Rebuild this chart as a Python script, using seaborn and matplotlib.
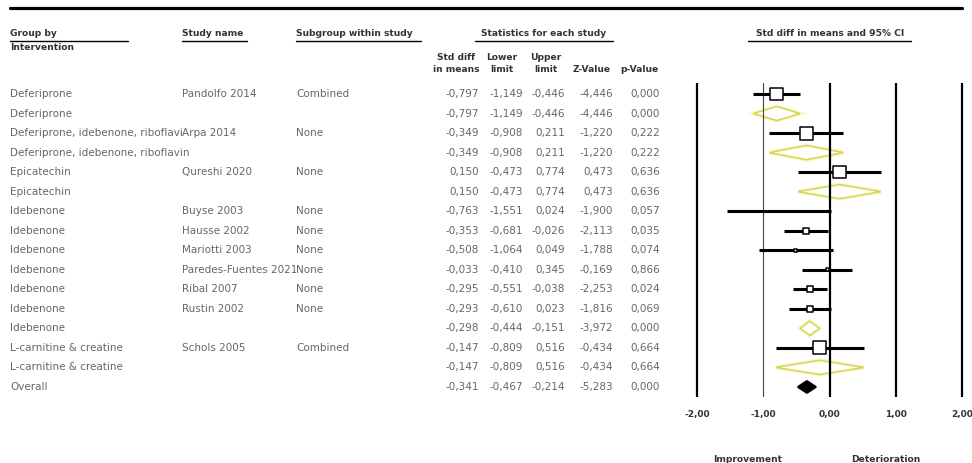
import matplotlib
matplotlib.use("Agg")
import matplotlib.pyplot as plt
from matplotlib.lines import Line2D
from matplotlib.patches import Polygon, Rectangle
from matplotlib.transforms import blended_transform_factory
import numpy as np
import pandas as pd
import seaborn as sns

# ---- data -----------------------------------------------------------------
groups = [
    "Deferiprone", "Deferiprone",
    "Deferiprone, idebenone, riboflavin", "Deferiprone, idebenone, riboflavin",
    "Epicatechin", "Epicatechin",
    "Idebenone", "Idebenone", "Idebenone", "Idebenone", "Idebenone", "Idebenone",
    "Idebenone",
    "L-carnitine & creatine", "L-carnitine & creatine",
    "Overall",
]
studies = [
    "Pandolfo 2014", "",
    "Arpa 2014", "",
    "Qureshi 2020", "",
    "Buyse 2003", "Hausse 2002", "Mariotti 2003", "Paredes-Fuentes 2021",
    "Ribal 2007", "Rustin 2002", "",
    "Schols 2005", "",
    "",
]
subgroups = [
    "Combined", "",
    "None", "",
    "None", "",
    "None", "None", "None", "None", "None", "None", "",
    "Combined", "",
    "",
]
std_diff = [-0.797, -0.797, -0.349, -0.349, 0.150, 0.150,
            -0.763, -0.353, -0.508, -0.033, -0.295, -0.293, -0.298,
            -0.147, -0.147, -0.341]
lower = [-1.149, -1.149, -0.908, -0.908, -0.473, -0.473,
         -1.551, -0.681, -1.064, -0.410, -0.551, -0.610, -0.444,
         -0.809, -0.809, -0.467]
upper = [-0.446, -0.446, 0.211, 0.211, 0.774, 0.774,
         0.024, -0.026, 0.049, 0.345, -0.038, 0.023, -0.151,
         0.516, 0.516, -0.214]
z_value = [-4.446, -4.446, -1.220, -1.220, 0.473, 0.473,
           -1.900, -2.113, -1.788, -0.169, -2.253, -1.816, -3.972,
           -0.434, -0.434, -5.283]
p_value = [0.000, 0.000, 0.222, 0.222, 0.636, 0.636,
           0.057, 0.035, 0.074, 0.866, 0.024, 0.069, 0.000,
           0.664, 0.664, 0.000]
# relative weight of each study (drives the box size); 0 for pooled rows
rel_weight = [1.0, 0, 1.0, 0, 0.95, 0,
              0.0, 0.45, 0.22, 0.22, 0.45, 0.45, 0,
              1.0, 0, 0]
x_ticks = [-2, -1, 0, 1, 2]

df = pd.DataFrame({
    "group": groups, "study": studies, "subgroup": subgroups,
    "smd": std_diff, "lo": lower, "hi": upper, "z": z_value, "p": p_value,
    "w": rel_weight,
})
df["row"] = np.arange(len(df))
df["pooled"] = df["study"] == ""
df["overall"] = df["group"] == "Overall"


def fmt(v):
    return f"{v:.3f}".replace(".", ",")


# ---- figure ---------------------------------------------------------------
sns.set_theme(style="white")
plt.rcParams["font.family"] = ["DejaVu Sans"]

W, H = 972, 463
fig = plt.figure(figsize=(W / 100, H / 100), dpi=100)
fig.patch.set_facecolor("white")


def fx(px):
    return px / W


def fy(py):
    return 1 - py / H


# forest panel: x from -2 (px 697) to 2 (px 962), rows 94 px + 19.53 px each
unit = 66.25
x0_px = 829.5
xl, xr = -2.06, 2.06
row_px0, row_step = 94.0, 19.53
top_px, bot_px = 83.0, 397.0
ax = fig.add_axes([fx(x0_px + xl * unit), fy(bot_px),
                   (xr - xl) * unit / W, (bot_px - top_px) / H])
ax.set_xlim(xl, xr)
ax.set_ylim((bot_px - row_px0) / row_step, (top_px - row_px0) / row_step)
for s in ax.spines.values():
    s.set_visible(False)
ax.set_yticks([])
ax.set_facecolor("none")
ax.grid(False)

# reference lines
for t in x_ticks:
    thin = t == -1
    ax.axvline(t, color="#444444" if thin else "black",
               lw=0.8 if thin else 1.6, zorder=3)

# confidence intervals for single studies
st = df[~df["pooled"]]
ax.hlines(st["row"], st["lo"], st["hi"], color="black", lw=2.2, zorder=4)

# study boxes, area proportional to weight
boxes = st[st["w"] > 0]
side_pt = 13 / 1.389 * boxes["w"].to_numpy()
sns.scatterplot(data=boxes, x="smd", y="row", marker="s", s=side_pt ** 2,
                color="white", edgecolor="black", linewidth=1.1,
                legend=False, ax=ax, zorder=6)
ax.set_xlabel("")
ax.set_ylabel("")

# pooled diamonds
for _, r in df[df["pooled"]].iterrows():
    h = 0.28 if r["overall"] else 0.36
    pts = [(r["lo"], r["row"]), (r["smd"], r["row"] - h),
           (r["hi"], r["row"]), (r["smd"], r["row"] + h)]
    if r["overall"]:
        ax.add_patch(Polygon(pts, closed=True, facecolor="black",
                             edgecolor="black", lw=2.0, joinstyle="round",
                             zorder=5))
    else:
        ax.add_patch(Polygon(pts, closed=True, facecolor="none",
                             edgecolor="#f0f0a8", lw=3.0, alpha=0.6, zorder=2))
        ax.add_patch(Polygon(pts, closed=True, facecolor="white",
                             edgecolor="#d6d64a", lw=1.1, zorder=2))

ax.set_xticks(x_ticks)
ax.set_xticklabels([f"{t:.2f}".replace(".", ",") for t in x_ticks],
                   fontsize=6.5, fontweight="bold", color="#333333")
ax.tick_params(axis="x", length=0, pad=9)

# ---- table ----------------------------------------------------------------
body = dict(fontsize=7.5, color="#666666", va="center")
head = dict(fontsize=6.6, color="#333333", fontweight="bold", va="center")
rowtr = blended_transform_factory(fig.transFigure, ax.transData)

col_group, col_study, col_sub = 10, 182, 296
num_cols = [("smd", 479), ("lo", 523), ("hi", 565), ("z", 613), ("p", 660)]


def cell_clip(right_px):
    # a cell's text is cut off where the next filled cell begins
    rect = Rectangle((0, 0), fx(right_px), 1, transform=fig.transFigure,
                     visible=False)
    fig.add_artist(rect)
    return rect


clip_group = cell_clip(col_study - 0.5)
clip_study = cell_clip(col_sub - 0.5)

for _, r in df.iterrows():
    y = r["row"]
    tg = fig.text(fx(col_group), y, r["group"], transform=rowtr, **body)
    if r["study"]:
        tg.set_clip_path(clip_group)
        tg.set_clip_on(True)
        ts = fig.text(fx(col_study), y, r["study"], transform=rowtr, **body)
        ts.set_clip_path(clip_study)
        ts.set_clip_on(True)
    if r["subgroup"]:
        fig.text(fx(col_sub), y, r["subgroup"], transform=rowtr, **body)
    for key, xr_px in num_cols:
        fig.text(fx(xr_px), y, fmt(r[key]), transform=rowtr, ha="right", **body)

# column headings
fig.text(fx(10), fy(33), "Group by", **head)
fig.text(fx(10), fy(47), "Intervention", **head)
fig.text(fx(182), fy(33), "Study name", **head)
fig.text(fx(296), fy(33), "Subgroup within study", **head)
fig.text(fx(544), fy(33), "Statistics for each study", ha="center", **head)
fig.text(fx(830), fy(33), "Std diff in means and 95% CI", ha="center", **head)
fig.text(fx(456), fy(57), "Std diff", ha="center", **head)
fig.text(fx(456), fy(70), "in means", ha="center", **head)
fig.text(fx(502), fy(57), "Lower", ha="center", **head)
fig.text(fx(502), fy(70), "limit", ha="center", **head)
fig.text(fx(546), fy(57), "Upper", ha="center", **head)
fig.text(fx(546), fy(70), "limit", ha="center", **head)
fig.text(fx(592), fy(70), "Z-Value", ha="center", **head)
fig.text(fx(639), fy(70), "p-Value", ha="center", **head)

fig.text(fx(748), fy(459), "Improvement", ha="center", **head)
fig.text(fx(886), fy(459), "Deterioration", ha="center", **head)


# rules
def hrule(x0, x1, y, lw):
    fig.add_artist(Line2D([fx(x0), fx(x1)], [fy(y), fy(y)], color="black",
                          lw=lw, transform=fig.transFigure))


hrule(10, 962, 7.5, 2.3)
hrule(10, 128, 40.5, 1.0)
hrule(182, 247, 40.5, 1.0)
hrule(296, 421, 40.5, 1.0)
hrule(475, 613, 40.5, 1.0)
hrule(748, 911, 40.5, 1.0)

fig.savefig("out.png", dpi=100, facecolor="white")
